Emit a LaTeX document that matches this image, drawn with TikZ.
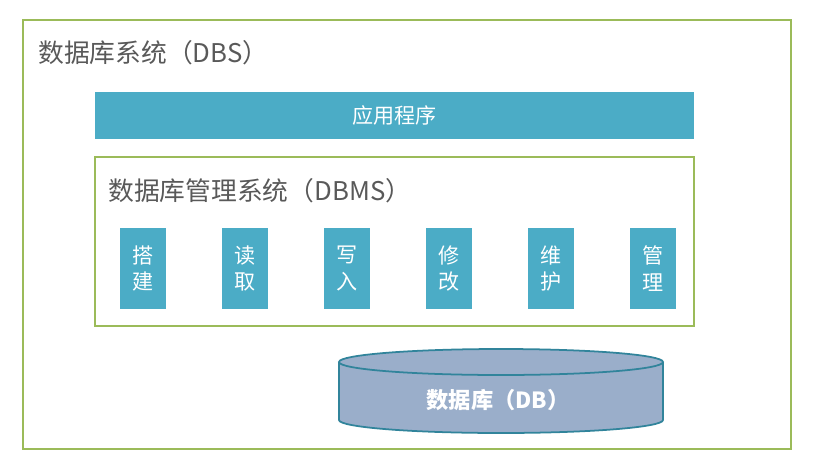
\documentclass[tikz,border=0pt]{standalone}
\usepackage{fontspec}
\setmainfont{Noto Sans CJK SC}
\usetikzlibrary{positioning}
\definecolor{framegreen}{HTML}{9BBB59}
\definecolor{barblue}{HTML}{4BACC6}
\definecolor{dbfill}{HTML}{9AAECA}
\definecolor{dbline}{HTML}{31849B}
\definecolor{titlegray}{HTML}{595959}
\begin{document}
\begin{tikzpicture}[x=0.03cm,y=-0.03cm,every node/.style={inner sep=0pt},
    frame/.style={draw=framegreen,line width=1.5pt},
    bar/.style={fill=barblue,text=white,align=center,font=\fontsize{18}{22.5}\selectfont},
    title/.style={anchor=west,text=titlegray,font=\fontsize{22}{26}\selectfont}]
    \useasboundingbox (0,0) rectangle (815,474);
    \draw[frame] (23,20) rectangle (791,449);
    \node[title] (dbs) at (38,53) {数据库系统（DBS）};
    \node[bar,minimum width=17.97cm,minimum height=1.41cm] (app) at (394.5,115.5) {应用程序};
    \draw[frame] (95,157) rectangle (694,326);
    \node[title] (dbms) at (108,191) {数据库管理系统（DBMS）};
    \foreach \nm/\txt [count=\i from 0] in {build/{搭\\建},read/{读\\取},write/{写\\入},modify/{修\\改},maintain/{维\\护},manage/{管\\理}} {
        \node[bar,minimum width=1.38cm,minimum height=2.43cm] (op-\nm) at ({143+102*\i},268.5) {\txt};
    }
    \draw[dbline,fill=dbfill,line width=1.5pt] (339,362) -- (339,420) arc[start angle=180,end angle=0,x radius=162,y radius=13] -- (663,362);
    \draw[dbline,fill=dbfill,line width=1.5pt] (501,362) ellipse [x radius=162,y radius=13];
    \node[text=white,font=\fontsize{19}{22}\selectfont\bfseries] (db) at (498,400) {数据库（DB）};
\end{tikzpicture}
\end{document}
